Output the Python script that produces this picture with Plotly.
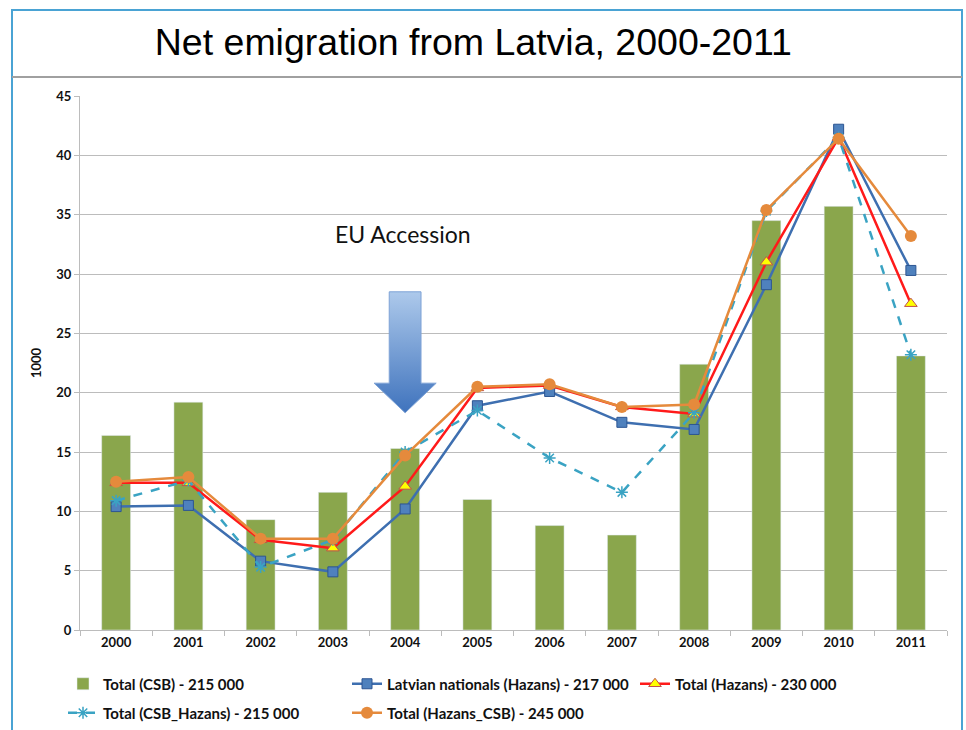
import plotly.graph_objects as go

years = ["2000", "2001", "2002", "2003", "2004", "2005", "2006", "2007", "2008", "2009", "2010", "2011"]
total_csb = [16.4, 19.2, 9.3, 11.6, 15.3, 11.0, 8.8, 8.0, 22.4, 34.5, 35.7, 23.1]
latvian_hazans = [10.4, 10.5, 5.8, 4.9, 10.2, 18.9, 20.1, 17.5, 16.9, 29.1, 42.2, 30.3]
total_hazans = [12.4, 12.4, 7.6, 6.9, 12.1, 20.4, 20.6, 18.8, 18.2, 31.0, 41.5, 27.5]
total_csb_hazans = [10.9, 12.6, 5.3, 7.6, 15.0, 18.5, 14.5, 11.6, 18.3, 35.3, 41.5, 23.2]
total_hazans_csb = [12.5, 12.9, 7.7, 7.7, 14.7, 20.5, 20.7, 18.8, 19.0, 35.4, 41.4, 33.2]

names = ["Total (CSB) - 215 000",
         "Latvian nationals (Hazans) - 217 000",
         "Total (Hazans) - 230 000",
         "Total (CSB_Hazans) - 215 000",
         "Total (Hazans_CSB) - 245 000"]

# EU accession arrow outline (category index units, value units)
arrow_x = [3.78, 4.22, 4.22, 4.43, 4.0, 3.57, 3.78, 3.78]
arrow_y = [28.5, 28.5, 20.8, 20.8, 18.3, 20.8, 20.8, 28.5]

FONT = "Lato"
fig = go.Figure()

fig.add_trace(go.Bar(x=years, y=total_csb, name=names[0], marker_color="#8aa64c",
                     width=0.4, legend="legend"))
fig.add_trace(go.Scatter(x=years, y=latvian_hazans, name=names[1], mode="lines+markers",
                         line=dict(color="#3e6fb0", width=2.5),
                         marker=dict(symbol="square", size=10, color="#4f81bd",
                                     line=dict(color="#2c5592", width=1)),
                         legend="legend2"))
fig.add_trace(go.Scatter(x=years, y=total_hazans, name=names[2], mode="lines+markers",
                         line=dict(color="#ff1a1a", width=2.5),
                         marker=dict(symbol="triangle-up", size=11, color="#ffff00",
                                     line=dict(color="#c0504d", width=1)),
                         legend="legend3"))
fig.add_trace(go.Scatter(x=years, y=total_csb_hazans, name=names[3], mode="lines+markers",
                         line=dict(color="#3aa3c3", width=2.5, dash="dash"),
                         marker=dict(symbol="asterisk-open", size=10, color="#3aa3c3",
                                     line=dict(color="#3aa3c3", width=1.5)),
                         legend="legend4"))
fig.add_trace(go.Scatter(x=years, y=total_hazans_csb, name=names[4], mode="lines+markers",
                         line=dict(color="#e58a3c", width=2.5),
                         marker=dict(symbol="circle", size=12, color="#e58a3c"),
                         legend="legend5"))

fig.add_trace(go.Scatter(x=arrow_x, y=arrow_y, xaxis="x2", mode="lines", fill="toself",
                         line=dict(color="#7ea3d6", width=1),
                         fillgradient=dict(type="vertical", start=18.3, stop=28.5,
                                           colorscale=[[0, "#3f73bd"], [1, "#adc9eb"]]),
                         showlegend=False, hoverinfo="skip"))

fig.add_annotation(x=3.97, y=33.4, xref="x2", yref="y", text="EU Accession",
                   showarrow=False, font=dict(family=FONT, size=23, color="#111"))

grid = "#bcbcbc"
fig.update_layout(
    width=966, height=730,
    margin=dict(l=80, r=19, t=96, b=100, autoexpand=False),
    paper_bgcolor="white", plot_bgcolor="white",
    title=dict(text="Net emigration from Latvia, 2000-2011", x=0.490, xanchor="center",
               y=0.943, yanchor="middle",
               font=dict(family="Liberation Sans", size=37.5, color="#000")),
    xaxis=dict(type="category", range=[-0.5, 11.5], showgrid=False, showline=True,
               linecolor=grid, ticks="outside", tickson="boundaries", ticklen=5,
               tickcolor=grid, automargin=False,
               tickfont=dict(family=FONT, size=13, color="#111", weight="bold")),
    xaxis2=dict(overlaying="x", range=[-0.5, 11.5], visible=False),
    yaxis=dict(range=[0, 45], dtick=5, showgrid=True, gridcolor=grid, showline=True,
               linecolor=grid, ticks="outside", ticklen=5, tickcolor=grid,
               tickfont=dict(family=FONT, size=13, color="#111", weight="bold"),
               title=dict(text="1000", standoff=11,
                          font=dict(family=FONT, size=13, color="#111", weight="bold")),
               automargin=False),
    showlegend=True,
)

legend_pos = [("legend", 63, 684), ("legend2", 347, 684), ("legend3", 635, 684),
              ("legend4", 63, 713), ("legend5", 347, 713)]
for key, px, py in legend_pos:
    fig.update_layout({key: dict(x=(px - 80) / 867, y=(630 - py) / 534, xanchor="left",
                                 yanchor="middle", orientation="h",
                                 bgcolor="rgba(0,0,0,0)",
                                 font=dict(family=FONT, size=15, color="#111",
                                           weight="bold"))})

# frame and title separator
fig.add_shape(type="rect", xref="paper", yref="paper", x0=(12 - 80) / 867, x1=(962 - 80) / 867,
              y0=-0.25, y1=(630 - 10) / 534, line=dict(color="#4aa3d4", width=2),
              fillcolor="rgba(0,0,0,0)", layer="below")
fig.add_shape(type="line", xref="paper", yref="paper", x0=(12 - 80) / 867, x1=(962 - 80) / 867,
              y0=(630 - 77) / 534, y1=(630 - 77) / 534, line=dict(color="#a0a0a0", width=2))

fig.write_html("out.html", config={"displayModeBar": False},
               post_script="document.body.style.margin='0';document.body.style.overflow='hidden';")
